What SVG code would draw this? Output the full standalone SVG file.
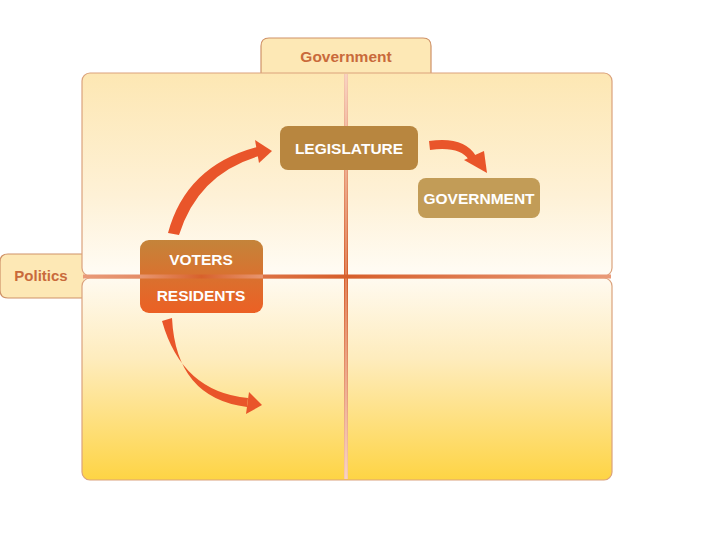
<svg xmlns="http://www.w3.org/2000/svg" width="720" height="540" viewBox="0 0 720 540">
<defs>
<linearGradient id="gTop" x1="0" y1="0" x2="0" y2="1"><stop offset="0" stop-color="#fde7b3"/><stop offset="0.6" stop-color="#fef1d6"/><stop offset="1" stop-color="#fffcf5"/></linearGradient>
<linearGradient id="gBot" x1="0" y1="0" x2="0" y2="1"><stop offset="0" stop-color="#fffaf0"/><stop offset="0.4" stop-color="#feecbd"/><stop offset="1" stop-color="#fed444"/></linearGradient>
<linearGradient id="gVoter" x1="0" y1="0" x2="0" y2="1"><stop offset="0" stop-color="#c4843a"/><stop offset="0.5" stop-color="#d9712f"/><stop offset="1" stop-color="#ec6024"/></linearGradient>
<linearGradient id="gV" x1="0" y1="0" x2="0" y2="1"><stop offset="0" stop-color="#f6c9b4"/><stop offset="0.5" stop-color="#d75f2b"/><stop offset="1" stop-color="#f6c9b4"/></linearGradient>
<linearGradient id="gH" x1="0" y1="0" x2="1" y2="0"><stop offset="0" stop-color="#e99a78"/><stop offset="0.5" stop-color="#d75f2b"/><stop offset="1" stop-color="#e99a78"/></linearGradient>
<style>
.panel{stroke:#dba27c;stroke-width:1.2}
.tab{fill:#fde8b5;stroke:#cf9268;stroke-width:1.2}
.tabtxt{font-family:"Liberation Sans",Arial,sans-serif;font-weight:bold;font-size:15.5px;fill:#c96a3b;text-anchor:middle}
.ntxt{font-family:"Liberation Sans",Arial,sans-serif;font-weight:bold;font-size:15.5px;fill:#ffffff;text-anchor:middle}
.arrow{fill:#e9552a}
</style>
</defs>
<rect width="720" height="540" fill="#ffffff"/>
<g id="tab-government">
<path class="tab" d="M261,74 V46 Q261,38 269,38 H423 Q431,38 431,46 V74"/>
<text class="tabtxt" x="346" y="62">Government</text>
</g>
<g id="tab-politics">
<path class="tab" d="M84,254 H8 Q0,254 0,262 V290 Q0,298 8,298 H84"/>
<text class="tabtxt" x="41" y="281" style="font-size:15px">Politics</text>
</g>
<g id="panel-top">
<rect class="panel" x="82" y="73" width="530" height="203" rx="8" fill="url(#gTop)"/>
</g>
<g id="panel-bottom">
<rect class="panel" x="82" y="278" width="530" height="202" rx="8" fill="url(#gBot)"/>
</g>
<g id="dividers">
<rect x="344" y="74" width="4" height="405" fill="url(#gV)"/>
<rect x="345.5" y="74" width="1" height="405" fill="#fff2ea" opacity="0.5"/>
<rect x="83" y="274.5" width="528" height="4" fill="url(#gH)"/>
</g>
<g id="connectors">
<path class="arrow" d="M168,233 Q186,166 257,147 L259,156 Q198,174 179,235 Z"/>
<polygon class="arrow" points="255,140 272,151 259,163"/>
<path class="arrow" d="M429,141 Q464,136 476,156 L469,160 Q460,146 430,150 Z"/>
<polygon class="arrow" points="464,160 487,173 484,151"/>
<path class="arrow" d="M162,321 Q182,392 248,398 L247,407 Q176,398 172,318 Z"/>
<polygon class="arrow" points="249,392 262,405 246,414"/>
</g>
<g id="node-voters">
<rect x="140" y="240" width="123" height="73" rx="9" fill="url(#gVoter)"/>
<rect x="140" y="274.5" width="123" height="4" fill="url(#gH)" opacity="0.9"/>
<text class="ntxt" x="201" y="265">VOTERS</text>
<text class="ntxt" x="201" y="301">RESIDENTS</text>
</g>
<g id="node-legislature">
<rect x="280" y="126" width="138" height="44" rx="8" fill="#b8863f"/>
<text class="ntxt" x="349" y="153.5">LEGISLATURE</text>
</g>
<g id="node-government">
<rect x="418" y="178" width="122" height="40" rx="8" fill="#c29c57"/>
<text class="ntxt" x="479" y="203.5">GOVERNMENT</text>
</g>
</svg>
